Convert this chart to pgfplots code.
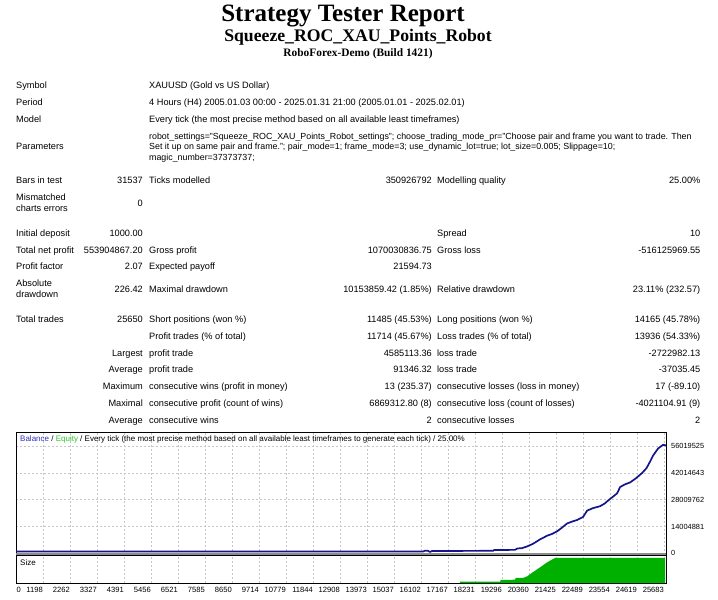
\documentclass[border=0pt]{standalone}
\usepackage{fontspec}
\setmainfont{Liberation Sans}
\newfontfamily\serifb{Liberation Serif}
\usepackage{pgfplots}
\usepackage{pgfplotstable}
\pgfplotsset{compat=1.18}
\definecolor{bal}{RGB}{20,20,140}
\definecolor{sizeg}{RGB}{0,176,0}
\definecolor{eqg}{RGB}{40,200,40}
\definecolor{balt}{RGB}{50,50,190}
\definecolor{sepg}{RGB}{140,140,140}
\newcommand\tf{\fontsize{9.2}{11}\selectfont}
\newcommand\tl[3]{\node[anchor=base west] at (#1pt,{(596.8-#2)*1pt}) {#3};}
\newcommand\tr[3]{\node[anchor=base east] at (#1pt,{(596.8-#2)*1pt}) {#3};}

\pgfplotstableread{
k v
0 0.9
15.07 0.9
15.15 1.4
15.25 1.3
15.33 0.7
15.41 1.2
17.67 1.3
17.70 1.7
18.48 1.8
18.56 2.5
18.74 2.7
18.93 3.6
19.15 5.0
19.41 7.3
19.67 9.2
19.85 10.1
20.04 11.5
20.20 13.2
20.41 15.6
20.60 16.6
20.78 17.4
21.00 19.0
21.15 22.3
21.37 23.6
21.63 24.6
21.80 26.0
21.93 27.6
22.10 29.5
22.26 31.3
22.37 34.6
22.55 36.0
22.74 37.0
22.96 39.2
23.19 42.0
23.35 44.5
23.48 47.9
23.59 51.0
23.78 54.8
23.96 56.6
24.07 56.4
}\balancedata

\pgfplotstableread{
k v
16.44 0
16.44 1.5
17.93 1.5
17.95 3.0
18.48 3.3
18.50 5.0
18.78 5.0
18.93 6.7
19.15 11.0
19.41 15.7
19.67 20.7
19.89 24.0
19.96 25.0
24.04 25.0
24.04 0
}\sizedata

\begin{document}
\begin{tikzpicture}
\useasboundingbox (0pt,0pt) rectangle (718pt,600pt);

% titles
\node[anchor=base] at (343pt,578pt) {\serifb\bfseries\fontsize{25}{26}\selectfont Strategy Tester Report};
\node[anchor=base] at (358pt,558pt) {\serifb\bfseries\fontsize{17.7}{19}\selectfont Squeeze\_ROC\_XAU\_Points\_Robot};
\node[anchor=base] at (358pt,543pt) {\serifb\bfseries\fontsize{11.4}{12}\selectfont RoboForex-Demo (Build 1421)};

\begin{scope}[every node/.style={font=\tf, inner sep=0pt}]
\tl{16}{85}{Symbol}
\tl{149}{85}{XAUUSD (Gold vs US Dollar)}
\tl{16}{102}{Period}
\tl{149}{102}{4 Hours (H4) 2005.01.03 00:00 - 2025.01.31 21:00 (2005.01.01 - 2025.02.01)}
\tl{16}{119}{Model}
\tl{149}{119}{Every tick (the most precise method based on all available least timeframes)}
\tl{16}{146.7}{Parameters}
\tl{149}{136}{\fontsize{8.85}{11}\selectfont robot\_settings="Squeeze\_ROC\_XAU\_Points\_Robot\_settings"; choose\_trading\_mode\_pr="Choose pair and frame you want to trade. Then}
\tl{149}{146.7}{\fontsize{8.85}{11}\selectfont Set it up on same pair and frame."; pair\_mode=1; frame\_mode=3; use\_dynamic\_lot=true; lot\_size=0.005; Slippage=10;}
\tl{149}{157.3}{\fontsize{8.85}{11}\selectfont magic\_number=37373737;}
\tl{16}{180.5}{Bars in test}
\tr{143}{180.5}{31537}
\tl{149}{180.5}{Ticks modelled}
\tr{432}{180.5}{350926792}
\tl{437}{180.5}{Modelling quality}
\tr{700.5}{180.5}{25.00\%}
\tl{16}{197.7}{Mismatched}
\tl{16}{208.3}{charts errors}
\tr{143}{203}{0}
\tl{16}{233}{Initial deposit}
\tr{143}{233}{1000.00}
\tl{437}{233}{Spread}
\tr{700.5}{233}{10}
\tl{16}{250}{Total net profit}
\tr{143}{250}{553904867.20}
\tl{149}{250}{Gross profit}
\tr{432}{250}{1070030836.75}
\tl{437}{250}{Gross loss}
\tr{700.5}{250}{-516125969.55}
\tl{16}{266.7}{Profit factor}
\tr{143}{266.7}{2.07}
\tl{149}{266.7}{Expected payoff}
\tr{432}{266.7}{21594.73}
\tl{16}{283.5}{Absolute}
\tl{16}{294.2}{drawdown}
\tr{143}{289.5}{226.42}
\tl{149}{289.5}{Maximal drawdown}
\tr{432}{289.5}{10153859.42 (1.85\%)}
\tl{437}{289.5}{Relative drawdown}
\tr{700.5}{289.5}{23.11\% (232.57)}
\tl{16}{319}{Total trades}
\tr{143}{319}{25650}
\tl{149}{319}{Short positions (won \%)}
\tr{432}{319}{11485 (45.53\%)}
\tl{437}{319}{Long positions (won \%)}
\tr{700.5}{319}{14165 (45.78\%)}
\tl{149}{336}{Profit trades (\% of total)}
\tr{432}{336}{11714 (45.67\%)}
\tl{437}{336}{Loss trades (\% of total)}
\tr{700.5}{336}{13936 (54.33\%)}
\tr{143}{353}{Largest}
\tl{149}{353}{profit trade}
\tr{432}{353}{4585113.36}
\tl{437}{353}{loss trade}
\tr{700.5}{353}{-2722982.13}
\tr{143}{369.7}{Average}
\tl{149}{369.7}{profit trade}
\tr{432}{369.7}{91346.32}
\tl{437}{369.7}{loss trade}
\tr{700.5}{369.7}{-37035.45}
\tr{143}{386.7}{Maximum}
\tl{149}{386.7}{consecutive wins (profit in money)}
\tr{432}{386.7}{13 (235.37)}
\tl{437}{386.7}{consecutive losses (loss in money)}
\tr{700.5}{386.7}{17 (-89.10)}
\tr{143}{403.3}{Maximal}
\tl{149}{403.3}{consecutive profit (count of wins)}
\tr{432}{403.3}{6869312.80 (8)}
\tl{437}{403.3}{consecutive loss (count of losses)}
\tr{700.5}{403.3}{-4021104.91 (9)}
\tr{143}{420.3}{Average}
\tl{149}{420.3}{consecutive wins}
\tr{432}{420.3}{2}
\tl{437}{420.3}{consecutive losses}
\tr{700.5}{420.3}{2}
\end{scope}

% main balance panel
\begin{axis}[
  at={(16pt,45pt)}, anchor=south west, scale only axis,
  width=650pt, height=123pt,
  xmin=0, xmax=24.07, ymin=-0.89, ymax=63.34,
  xtick={0,...,24}, xticklabels={,},
  ytick={0,14.004881,28.009762,42.014643,56.019525},
  yticklabels={0,14004881,28009762,42014643,56019525},
  yticklabel pos=right,
  yticklabel style={anchor=west, inner sep=0pt, xshift=5pt, font=\fontsize{7.4}{8}\selectfont},
  major tick length=0pt,
  xmajorgrids, ymajorgrids,
  grid style={gray!45, line width=0.4pt, dash pattern=on 2pt off 2pt},
  axis line style={black, line width=0.6pt},
]
\addplot[bal, line width=1.7pt, line join=round] table[x=k,y=v] {\balancedata};
\end{axis}

% size panel
\begin{axis}[
  at={(16pt,17pt)}, anchor=south west, scale only axis,
  width=650pt, height=28pt,
  xmin=0, xmax=24.07, ymin=0, ymax=28,
  xtick={0,...,24},
  xticklabels={\makebox[0pt][l]{\,0},1198,2262,3327,4391,5456,6521,7585,8650,9714,10779,11844,12908,13973,15037,16102,17167,18231,19296,20360,21425,22489,23554,24619,25683},
  xticklabel style={anchor=north east, inner sep=0pt, yshift=-3.5pt, font=\fontsize{7.6}{8}\selectfont},
  ytick=\empty,
  major tick length=0pt,
  xmajorgrids,
  grid style={gray!45, line width=0.4pt, dash pattern=on 2pt off 2pt},
  axis line style={black, line width=0.6pt},
]
\addplot[fill=sizeg, draw=none] table[x=k,y=v] {\sizedata} -- cycle;
\end{axis}

\fill[sepg] (16pt,44.7pt) rectangle (666pt,46.9pt);

\node[anchor=west, inner sep=0pt, font=\fontsize{8}{9}\selectfont] at (20pt,161pt) {\textcolor{balt}{Balance} / \textcolor{eqg}{Equity} / Every tick (the most precise method based on all available least timeframes to generate each tick) / 25.00\%};
\node[anchor=west, inner sep=0pt, font=\fontsize{8}{9}\selectfont] at (20pt,37pt) {Size};
\end{tikzpicture}
\end{document}
